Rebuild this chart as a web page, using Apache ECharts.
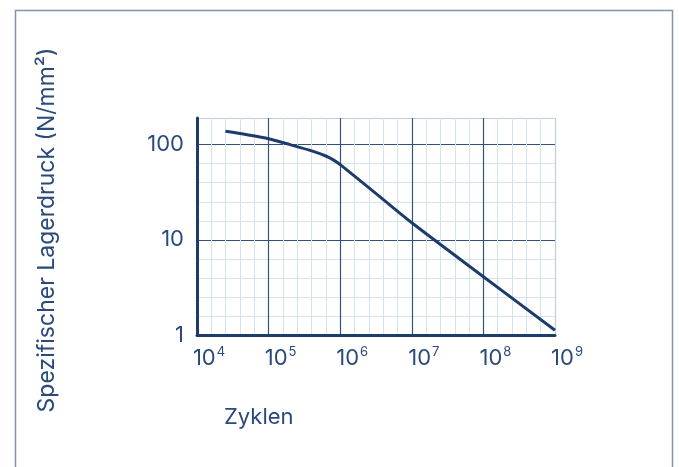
<!DOCTYPE html>
<html>
<head>
<meta charset="utf-8">
<style>
  html, body { margin: 0; padding: 0; background: #ffffff; }
  #chart { width: 679px; height: 467px; }
</style>
<script src="https://cdn.jsdelivr.net/npm/echarts@6/dist/echarts.min.js"></script>
</head>
<body>
<div id="chart"></div>
<script>
// Wöhler-type curve: permissible specific bearing pressure over load cycles
const cycles   = [2.5e4, 5e4, 1e5,   2e5, 4e5, 6.3e5, 8e5,  1e6,  3.2e6, 1e7,  1e8, 1e9];
const pressure = [138,   127, 115.3, 100, 86,  76,    69.2, 61.7, 30.4,  15.1, 4.1, 1.12];

// Decade exponents shown on the cycle axis and the pressure axis labels
const cycleExponents = [4, 5, 6, 7, 8, 9];
const pressureLabels = ['1', '10', '100'];

const yAxisTitle = 'Spezifischer Lagerdruck (N/mm²)';
const xAxisTitle = 'Zyklen';

const NAVY = '#1d3c6c';
const TEXT = '#2a4a7b';
const MAJOR = '#34507d';
const MINOR = '#d3e3ef';
const FONT = 'Inter, Lato, sans-serif';

// Plot frame in pixels (log10 scales inside)
const G = { left: 197, right: 124, top: 118, bottom: 132 };
const xMin = cycleExponents[0], xMax = cycleExponents[cycleExponents.length - 1];
const yMax = 2.28;
const plotH = 467 - G.top - G.bottom;
const minorTop = G.top + plotH * (yMax - 2) / yMax;

const points = cycles.map((n, i) => [Math.log10(n), Math.log10(pressure[i])]);

const chart = echarts.init(document.getElementById('chart'));
chart.setOption({
  animation: false,
  backgroundColor: '#ffffff',
  textStyle: { fontFamily: FONT },
  grid: [
    { left: G.left, right: G.right, top: G.top, bottom: G.bottom, containLabel: false },
    { left: G.left, right: G.right, top: minorTop, bottom: G.bottom, containLabel: false }
  ],
  xAxis: [
    {
      type: 'value', gridIndex: 0, min: xMin, max: xMax, interval: 1, z: 2,
      axisLine: { show: true, lineStyle: { color: NAVY, width: 3 } },
      axisTick: { show: false },
      minorTick: { show: false, splitNumber: 5 },
      minorSplitLine: { show: true, lineStyle: { color: MINOR, width: 1 } },
      splitLine: { show: true, lineStyle: { color: [MAJOR, MAJOR, MAJOR, MAJOR, MAJOR, '#b9cfe0'], width: 1.2 } },
      axisLabel: {
        margin: 11,
        align: 'center',
        padding: [0, 0, 0, 24],
        formatter: v => cycleExponents.indexOf(v) >= 0 ? '{b|10}{s|' + v + '}' : '',
        rich: {
          b: { fontSize: 22, color: TEXT, fontFamily: FONT, lineHeight: 24 },
          s: { fontSize: 13, color: TEXT, fontFamily: FONT, verticalAlign: 'top', lineHeight: 13, padding: [0, 0, 0, 1] }
        }
      }
    },
    { type: 'value', gridIndex: 1, min: xMin, max: xMax, show: false }
  ],
  yAxis: [
    {
      type: 'value', gridIndex: 0, min: 0, max: yMax, interval: 1, z: 2,
      axisLine: { show: true, lineStyle: { color: NAVY, width: 3 } },
      axisTick: { show: false },
      splitLine: { show: true, lineStyle: { color: [MAJOR, MAJOR, MAJOR, '#b9cfe0'], width: 1.2 } },
      axisLabel: {
        margin: 13, fontSize: 22, color: TEXT, fontFamily: FONT,
        formatter: v => (Number.isInteger(v) && pressureLabels[v] !== undefined) ? pressureLabels[v] : ''
      }
    },
    {
      type: 'value', gridIndex: 1, min: 0, max: 2, interval: 0.2, z: 0,
      axisLine: { show: false }, axisTick: { show: false }, axisLabel: { show: false },
      splitLine: { show: true, lineStyle: { color: MINOR, width: 1 } }
    }
  ],
  series: [{
    type: 'line',
    xAxisIndex: 0, yAxisIndex: 0,
    data: points,
    smooth: 0.3,
    symbol: 'none',
    z: 5,
    lineStyle: { color: NAVY, width: 3 }
  }],
  graphic: [
    {
      type: 'rect', silent: true, z: 0,
      shape: { x: 15.5, y: 10.5, width: 657, height: 500 },
      style: { fill: 'none', stroke: '#7f93af', lineWidth: 1.5 }
    },
    {
      type: 'text', silent: true,
      x: 47, y: 230, rotation: Math.PI / 2,
      style: {
        text: yAxisTitle, fill: TEXT, font: '23px ' + FONT,
        textAlign: 'center', textVerticalAlign: 'middle'
      }
    },
    {
      type: 'text', silent: true,
      x: 224, y: 417,
      style: {
        text: xAxisTitle, fill: TEXT, font: '22px ' + FONT,
        textAlign: 'left', textVerticalAlign: 'middle'
      }
    }
  ]
});
</script>
</body>
</html>
